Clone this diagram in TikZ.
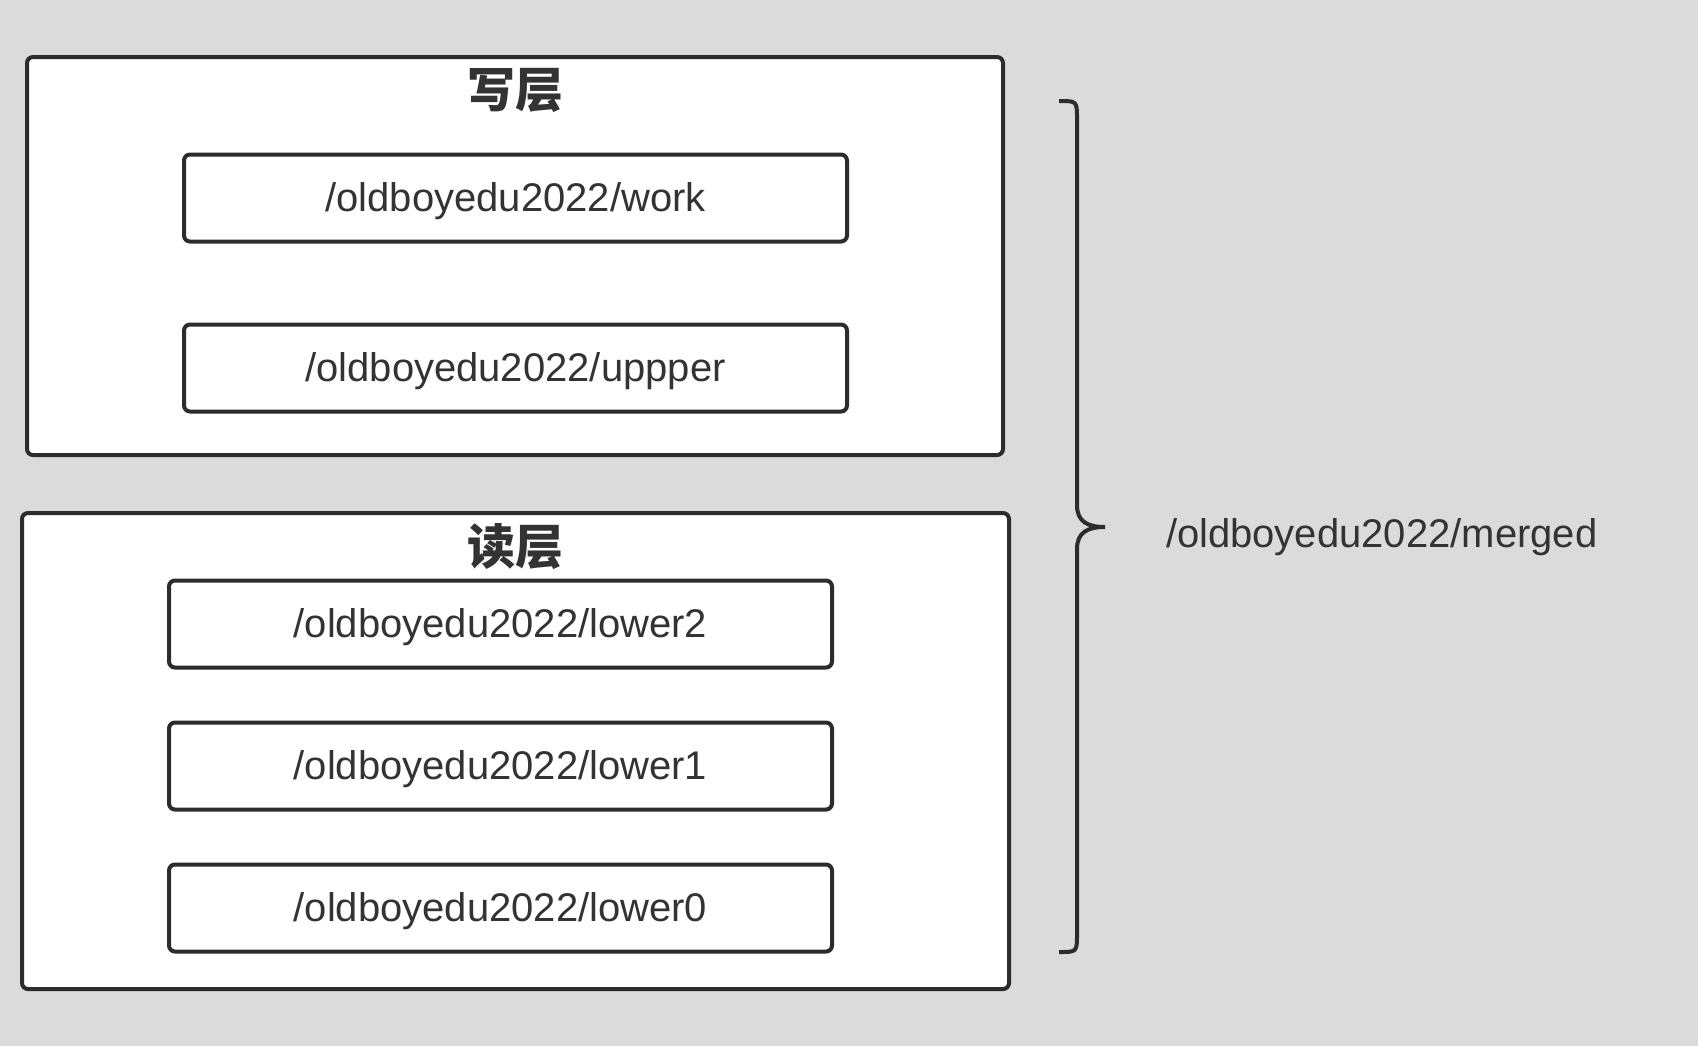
\documentclass[tikz,border=0pt]{standalone}
\usepackage{fontspec}
\setmainfont{Liberation Sans}
\newfontfamily\cjk{Noto Sans CJK SC}
\usetikzlibrary{positioning}
\usepackage{xcolor}
\definecolor{bggray}{RGB}{219,219,219}
\definecolor{linegray}{RGB}{44,44,44}
\definecolor{textgray}{RGB}{51,51,51}

\begin{document}
\begin{tikzpicture}[x=0.5pt,y=-0.5pt,node distance=71pt,line width=2pt,
      layer node/.style={rectangle,rounded corners=3pt,draw=linegray,fill=white},
      dir node/.style={rectangle,rounded corners=3pt,draw=linegray,fill=white,
          text=textgray,font=\fontsize{20pt}{24pt}\selectfont,
          text height=17.5pt,text depth=4pt,
          minimum width=331.5pt,minimum height=43.5pt,inner sep=0pt},
      title node/.style={text=textgray,inner sep=0pt,
          font=\cjk\bfseries\fontsize{24pt}{28pt}\selectfont}]

    \fill[bggray] (0,0) rectangle (1698,1046);
    \useasboundingbox (0,0) rectangle (1698,1046);

    % the two layers
    \node[layer node,minimum width=488pt,minimum height=199pt] (wl) at (515,256) {};
    \node[layer node,minimum width=493.5pt,minimum height=238pt] (rl) at (515.5,751) {};
    \node[title node] (wt) at (515,90) {写层};
    \node[title node] (rt) at (515,547) {读层};

    \node[dir node] (work) at (515.5,198) {/oldboyedu2022/work};
    \node[dir node] (up) [below of=work,node distance=85pt] {/oldboyedu2022/uppper};
    \node[dir node] (l2) at (500.5,624) {/oldboyedu2022/lower2};
    \node[dir node] (l1) [below of=l2] {/oldboyedu2022/lower1};
    \node[dir node] (l0) [below of=l1] {/oldboyedu2022/lower0};

    % brace over all of them
    \draw[linegray] (1059,101) .. controls (1077,101) .. (1077,119) -- (1077,505)
        .. controls (1077,522) and (1088,527) .. (1105,527)
        .. controls (1088,527) and (1077,532) .. (1077,549) -- (1077,934)
        .. controls (1077,952) .. (1059,952);
    \node[text=textgray,font=\fontsize{20pt}{24pt}\selectfont,anchor=west,inner sep=0pt]
        (mg) at (1164,537) {/oldboyedu2022/merged};

\end{tikzpicture}
\end{document}
